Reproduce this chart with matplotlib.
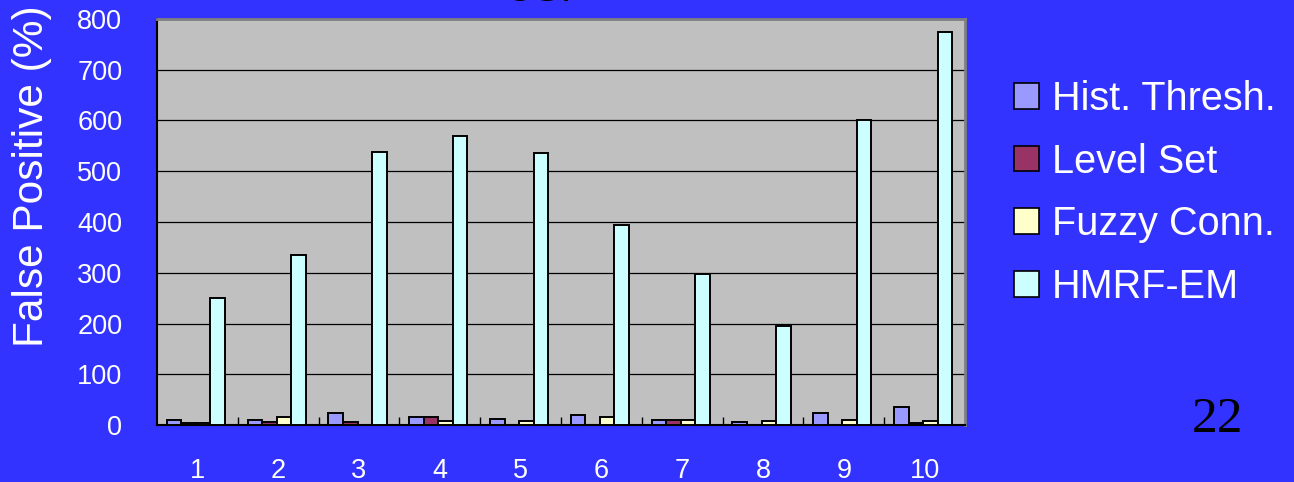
import numpy as np
import matplotlib
matplotlib.use("Agg")
import matplotlib.pyplot as plt
from matplotlib.patches import Patch

# Data: false positive rate (%) per test case for each segmentation method
cases = ["1", "2", "3", "4", "5", "6", "7", "8", "9", "10"]
hist_thresh = [10, 10, 24, 15, 12, 20, 10, 6, 24, 35]
level_set = [4, 6, 6, 15, 0, 0, 10, 0, 0, 4]
fuzzy_conn = [4, 15, 0, 7, 8, 15, 10, 8, 10, 8]
hmrf_em = [250, 335, 538, 570, 535, 395, 298, 195, 600, 775]

series = [
    ("Hist. Thresh.", hist_thresh, "#9999FF"),
    ("Level Set", level_set, "#993366"),
    ("Fuzzy Conn.", fuzzy_conn, "#FFFFCC"),
    ("HMRF-EM", hmrf_em, "#CCFFFF"),
]

W, H = 1294, 482
fig = plt.figure(figsize=(W / 100, H / 100), dpi=100)
fig.patch.set_facecolor("#3333FF")
plt.rcParams["font.family"] = ["Liberation Sans", "DejaVu Sans"]

ax = fig.add_axes([157 / W, 57 / H, 808 / W, 406 / H])
ax.set_facecolor("#C0C0C0")

x = np.arange(len(cases))
bw = 0.18
offsets = np.array([-1.6, -0.6, 0.4, 1.4]) * bw
for (name, vals, color), off in zip(series, offsets):
    ax.bar(x + off, vals, width=bw, color=color, edgecolor="black",
           linewidth=1.4, label=name, zorder=3)

ax.set_xlim(-0.5, len(cases) - 0.5)
ax.set_ylim(0, 800)
ax.set_yticks(np.arange(0, 801, 100))
ax.yaxis.grid(True, color="black", linewidth=0.9, zorder=1)
ax.set_axisbelow(True)

ax.set_xticks(x)
ax.set_xticklabels(cases)
ax.set_xticks(np.arange(0.5, len(cases) - 0.5, 1), minor=True)
ax.tick_params(axis="x", which="major", length=0, pad=24, labelsize=19.5,
               labelcolor="white")
ax.tick_params(axis="x", which="minor", direction="in", length=6,
               width=1, color="black")
ax.tick_params(axis="y", length=0, pad=25, labelsize=19.5, labelcolor="white")

for side in ("left", "bottom"):
    ax.spines[side].set_color("black")
    ax.spines[side].set_linewidth(1.5)
for side in ("top", "right"):
    ax.spines[side].set_color("#808080")
    ax.spines[side].set_linewidth(2)

fig.text(32 / W, 1 - 176 / H, "False Positive (%)", rotation=90,
         color="white", fontsize=30.5, ha="center", va="center")

# Chart title running off the top edge of the slide
fig.text(545 / W, 1 - 1 / H, "CSF", color="black", fontsize=30,
         ha="center", va="baseline")

handles = [Patch(facecolor=c, edgecolor="black", linewidth=1.2)
           for _, _, c in series]
labels = [n for n, _, _ in series]
fig.legend(handles, labels, loc="upper left",
           bbox_to_anchor=(1014 / W, 1 - 80 / H), frameon=False,
           fontsize=28.5, labelcolor="white", handlelength=0.62,
           handleheight=0.62, handletextpad=0.33, labelspacing=0.62,
           borderpad=0, borderaxespad=0)

fig.text(1218 / W, 1 - 420 / H, "22", color="black", fontsize=37,
         family=["Liberation Serif", "DejaVu Serif"], ha="center",
         va="center")

fig.savefig("out.png", dpi=100, facecolor=fig.get_facecolor())
